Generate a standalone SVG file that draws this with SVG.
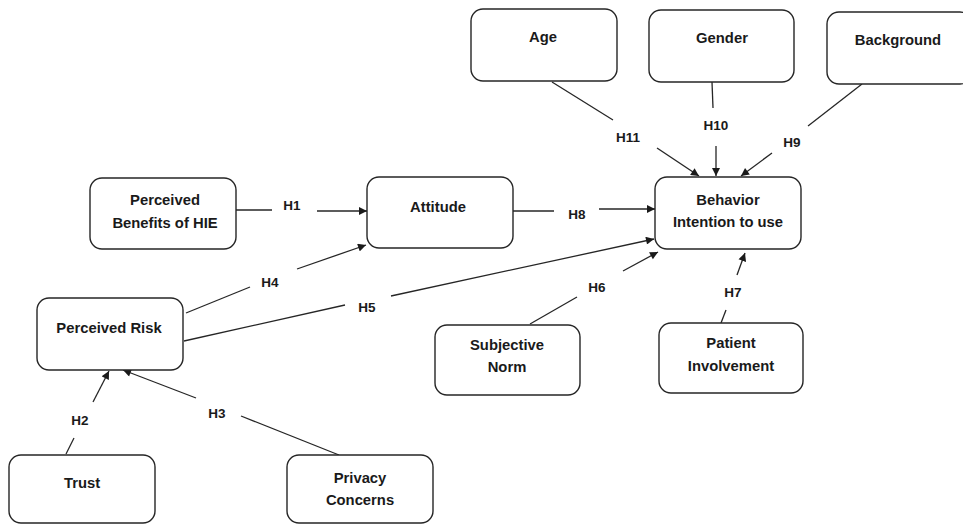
<svg xmlns="http://www.w3.org/2000/svg" width="963" height="525" viewBox="0 0 963 525">
<style>
.box{fill:#fff;stroke:#262626;stroke-width:1.4}
.t{font-family:"Liberation Sans",Arial,sans-serif;font-weight:bold;font-size:14.8px;fill:#1a1a1a;text-anchor:middle}
.l{font-family:"Liberation Sans",Arial,sans-serif;font-weight:bold;font-size:13.5px;fill:#1a1a1a;text-anchor:middle}
.c{stroke:#262626;stroke-width:1.3;fill:none}
.a{marker-end:url(#ah)}
</style>
<defs>
<marker id="ah" viewBox="0 0 10 10" refX="10" refY="5" markerWidth="9" markerHeight="8" markerUnits="userSpaceOnUse" orient="auto">
<path d="M0,0 L10,5 L0,10 z" fill="#1a1a1a"/>
</marker>
</defs>
<rect width="963" height="525" fill="#fff"/>
<g id="connectors">
<line class="c" x1="552" y1="82" x2="613" y2="120"/>
<line class="c a" x1="657" y1="148" x2="699" y2="176"/>
<text class="l" x="628" y="142">H11</text>
<line class="c" x1="712" y1="82" x2="713" y2="108"/>
<line class="c a" x1="716" y1="146" x2="716" y2="176"/>
<text class="l" x="716" y="130">H10</text>
<line class="c" x1="862" y1="84" x2="808" y2="126"/>
<line class="c a" x1="772" y1="153" x2="741" y2="176"/>
<text class="l" x="792" y="147">H9</text>
<line class="c" x1="236" y1="210" x2="272" y2="210"/>
<line class="c a" x1="317" y1="211" x2="367" y2="211"/>
<text class="l" x="292" y="210">H1</text>
<line class="c" x1="513" y1="211" x2="554" y2="211"/>
<line class="c a" x1="599" y1="209" x2="655" y2="209"/>
<text class="l" x="577" y="219">H8</text>
<line class="c" x1="186" y1="313" x2="250" y2="287"/>
<line class="c a" x1="297" y1="269" x2="366" y2="245"/>
<text class="l" x="270" y="287">H4</text>
<line class="c" x1="184" y1="341" x2="345" y2="305"/>
<line class="c a" x1="391" y1="296" x2="654" y2="239"/>
<text class="l" x="367" y="312">H5</text>
<line class="c" x1="530" y1="324" x2="577" y2="297"/>
<line class="c a" x1="623" y1="271" x2="658" y2="252"/>
<text class="l" x="597" y="292">H6</text>
<line class="c" x1="721" y1="323" x2="726" y2="310"/>
<line class="c a" x1="737" y1="275" x2="745" y2="253"/>
<text class="l" x="733" y="297">H7</text>
<line class="c" x1="66" y1="454" x2="74" y2="438"/>
<line class="c a" x1="93" y1="402" x2="109" y2="371"/>
<text class="l" x="80" y="425">H2</text>
<line class="c" x1="339" y1="455" x2="241" y2="416"/>
<line class="c a" x1="196" y1="398" x2="123" y2="370"/>
<text class="l" x="217" y="418">H3</text>
</g>
<g id="age"><rect class="box" x="471" y="9" width="146" height="72" rx="12"/><text class="t" x="543" y="42">Age</text></g>
<g id="gender"><rect class="box" x="649" y="10" width="145" height="72" rx="12"/><text class="t" x="722" y="43">Gender</text></g>
<g id="background"><rect class="box" x="827" y="12" width="145" height="72" rx="12"/><text class="t" x="898" y="45">Background</text></g>
<g id="benefits"><rect class="box" x="90" y="178" width="146" height="71" rx="12"/><text class="t" x="165" y="205">Perceived</text><text class="t" x="165" y="228">Benefits of HIE</text></g>
<g id="attitude"><rect class="box" x="367" y="177" width="146" height="71" rx="12"/><text class="t" x="438" y="212">Attitude</text></g>
<g id="behavior"><rect class="box" x="655" y="177" width="146" height="72" rx="12"/><text class="t" x="728" y="205">Behavior</text><text class="t" x="728" y="227">Intention to use</text></g>
<g id="risk"><rect class="box" x="37" y="298" width="146" height="72" rx="12"/><text class="t" x="109" y="333">Perceived Risk</text></g>
<g id="subjective"><rect class="box" x="435" y="325" width="145" height="70" rx="12"/><text class="t" x="507" y="350">Subjective</text><text class="t" x="507" y="372">Norm</text></g>
<g id="patient"><rect class="box" x="659" y="323" width="144" height="70" rx="12"/><text class="t" x="731" y="348">Patient</text><text class="t" x="731" y="371">Involvement</text></g>
<g id="trust"><rect class="box" x="9" y="455" width="146" height="68" rx="12"/><text class="t" x="82" y="488">Trust</text></g>
<g id="privacy"><rect class="box" x="287" y="455" width="146" height="68" rx="12"/><text class="t" x="360" y="483">Privacy</text><text class="t" x="360" y="505">Concerns</text></g>
</svg>
